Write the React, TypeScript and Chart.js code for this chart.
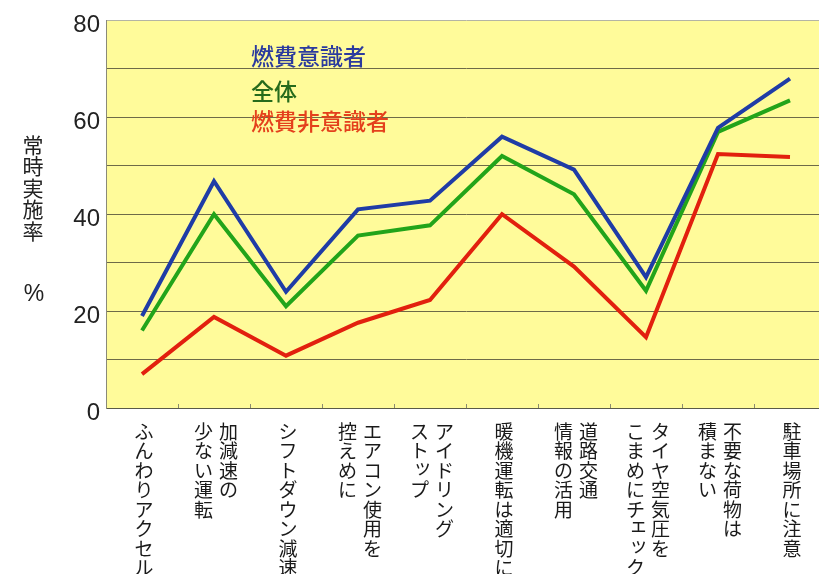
import React, { useEffect, useRef } from 'react';
import { Chart, registerables } from 'chart.js';

Chart.register(...registerables);

const categories = [
  'ふんわりアクセル',
  '加減速の\n少ない運転',
  'シフトダウン減速',
  'エアコン使用を\n控えめに',
  'アイドリング\nストップ',
  '暖機運転は適切に',
  '道路交通\n情報の活用',
  'タイヤ空気圧を\nこまめにチェック',
  '不要な荷物は\n積まない',
  '駐車場所に注意',
];
const seriesNames = ['燃費意識者', '全体', '燃費非意識者'];
const conscious = [19, 46.8, 24, 41, 42.8, 56, 49.2, 27, 57.8, 68];
const overall = [16, 40, 21, 35.6, 37.7, 52, 44.1, 24.2, 57, 63.5];
const unconscious = [7, 18.8, 10.8, 17.6, 22.3, 40, 29.2, 14.6, 52.4, 51.8];
const yLabeledTicks = [0, 20, 40, 60, 80];
const yTitle = '常時実施率';
const yUnit = '%';

const lineColors = ['#1f3ca6', '#22a41a', '#e2200e'];
const textColors = ['#2b3a9e', '#266b1c', '#e4401c'];
const SMALL = 'ァィゥェォッャュョヮぁぃぅぇぉっゃゅょゎ';

const decor = {
  id: 'decor',
  beforeDraw(chart: any) {
    const { ctx, chartArea: a } = chart;
    ctx.save();
    ctx.fillStyle = '#fffb9a';
    ctx.fillRect(a.left, a.top, a.right - a.left, a.bottom - a.top);
    ctx.restore();
  },
  afterDraw(chart: any) {
    const ctx = chart.ctx;
    const xs = chart.scales.x;
    const a = chart.chartArea;
    ctx.save();
    // category labels (vertical writing)
    ctx.font = '19px "Noto Sans CJK JP"';
    ctx.fillStyle = '#1a1a1a';
    ctx.textAlign = 'center';
    ctx.textBaseline = 'middle';
    categories.forEach((lab, i) => {
      const cols = lab.split('\n');
      const cx = xs.getPixelForValue(i) + 2;
      const n = cols.length;
      cols.forEach((col, j) => {
        const x = cx + ((n - 1) / 2 - j) * 25;
        Array.from(col).forEach((ch, k) => {
          const y = a.bottom + 23.5 + k * 19.5;
          let dx = 0, dy = 0;
          if (SMALL.includes(ch)) { dx = 3; dy = -4; }
          ctx.fillText(ch, x + dx, y + dy);
        });
      });
    });
    // y title
    ctx.font = '21px "Noto Sans CJK JP"';
    ctx.fillStyle = '#222';
    Array.from(yTitle).forEach((ch, k) => {
      ctx.fillText(ch, 33, 145 + k * 21.5);
    });
    ctx.font = '23px "Liberation Sans", Arial';
    ctx.fillText(yUnit, 34, 295);
    // in-plot legend texts
    ctx.font = '500 23px "Noto Sans CJK JP"';
    ctx.textAlign = 'left';
    const offs = [36, 71, 101];
    seriesNames.forEach((name, i) => {
      ctx.fillStyle = textColors[i];
      ctx.fillText(name, a.left + 145, a.top + offs[i]);
    });
    ctx.restore();
  },
};

export default function App() {
  const ref = useRef<HTMLCanvasElement | null>(null);
  useEffect(() => {
    if (!ref.current) return;
    const chart = new Chart(ref.current, {
      type: 'line',
      data: {
        labels: categories,
        datasets: [conscious, overall, unconscious].map((d, i) => ({
          label: seriesNames[i],
          data: d,
          borderColor: lineColors[i],
          backgroundColor: lineColors[i],
          borderWidth: 4,
          pointRadius: 0,
          tension: 0,
          fill: false,
          borderJoinStyle: 'miter' as const,
        })),
      },
      options: {
        animation: false,
        responsive: false,
        devicePixelRatio: 1,
        layout: { padding: { left: 0, top: 16, right: 14, bottom: 0 }, autoPadding: false },
        plugins: { legend: { display: false }, tooltip: { enabled: false } },
        scales: {
          x: {
            type: 'category',
            offset: true,
            grid: { offset: true, drawOnChartArea: false, drawTicks: true, tickLength: -4, color: '#8a8a70' },
            border: { color: '#5a5a48', width: 1 },
            ticks: { display: false },
            afterFit(s: any) { s.height = 166; },
          },
          y: {
            min: 0,
            max: 80,
            ticks: {
              stepSize: 10,
              autoSkip: false,
              callback: (v: any) => (yLabeledTicks.includes(Number(v)) ? String(v) : ''),
              font: { family: '"Liberation Sans", Arial', size: 24 },
              color: '#222',
              padding: 6,
              labelOffset: 5,
            },
            grid: {
              color: (c: any) => (c.tick && c.tick.value === 80 ? '#b4b4a4' : '#6e6a48'),
              drawTicks: false,
              lineWidth: 1,
            },
            border: { color: '#8a8a78', width: 1 },
            afterFit(s: any) { s.width = 106; },
          },
        },
      },
      plugins: [decor],
    });
    return () => chart.destroy();
  }, []);
  return (
    <div style={{ position: 'fixed', left: 0, top: 0, width: 819, height: 574, overflow: 'hidden', background: '#fff' }}>
      <canvas ref={ref} width={840} height={574} style={{ display: 'block' }} />
    </div>
  );
}
